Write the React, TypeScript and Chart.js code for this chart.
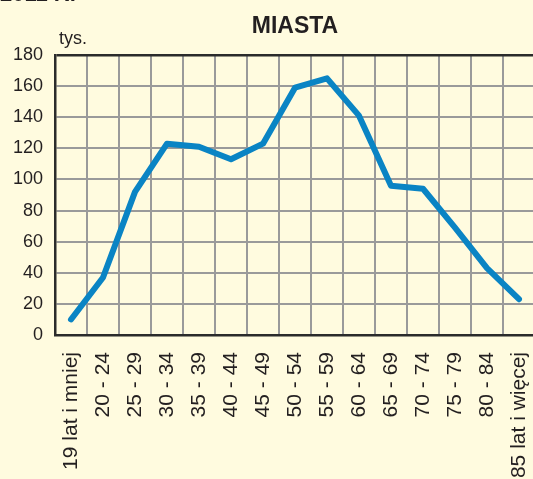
import React, { useEffect, useRef } from "react";
import { Chart, registerables } from "chart.js";

Chart.register(...registerables);

const categories = [
  "19 lat i mniej",
  "20 - 24",
  "25 - 29",
  "30 - 34",
  "35 - 39",
  "40 - 44",
  "45 - 49",
  "50 - 54",
  "55 - 59",
  "60 - 64",
  "65 - 69",
  "70 - 74",
  "75 - 79",
  "80 - 84",
  "85 lat i więcej",
];
const values = [10, 37, 92, 123, 121, 113, 123, 159, 165, 141, 96, 94, 69, 43, 23];
const yMin = 0;
const yMax = 180;
const yStep = 20;

const FONT = "'Liberation Sans', Arial, Helvetica, sans-serif";
const BG = "#FFFBDF";
const DARK = "#2b2b2b";
const GRID = "#9a9a9a";
const TEXT = "#231f20";

export default function App() {
  const ref = useRef<HTMLCanvasElement | null>(null);

  useEffect(() => {
    if (!ref.current) return;
    const chart = new Chart(ref.current, {
      type: "line",
      data: {
        labels: categories,
        datasets: [
          {
            data: values,
            borderColor: "#0A84C4",
            borderWidth: 6,
            pointRadius: 0,
            tension: 0,
            borderCapStyle: "round",
            borderJoinStyle: "round",
            fill: false,
          },
        ],
      },
      options: {
        responsive: false,
        animation: false,
        events: [],
        layout: { padding: { top: 55, left: 0, right: 0, bottom: 0 } },
        plugins: {
          legend: { display: false },
          tooltip: { enabled: false },
          title: { display: false },
        },
        scales: {
          x: {
            type: "category",
            offset: true,
            grid: {
              offset: true,
              color: GRID,
              lineWidth: 2,
              drawTicks: false,
            },
            border: { color: DARK, width: 2.5 },
            ticks: {
              autoSkip: false,
              maxRotation: 90,
              minRotation: 90,
              padding: 17,
              color: TEXT,
              font: { family: FONT, size: 21 },
            },
            afterFit: (s: any) => {
              s.height = 479 - 335;
              s.paddingLeft = 0;
              s.paddingRight = 0;
            },
          },
          y: {
            min: yMin,
            max: yMax,
            grid: {
              color: (c: any) => (c.tick && c.tick.value === yMax ? DARK : GRID),
              lineWidth: (c: any) => (c.tick && c.tick.value === yMax ? 2.5 : 2),
              drawTicks: false,
            },
            border: { color: DARK, width: 2.5 },
            ticks: {
              stepSize: yStep,
              padding: 12,
              color: TEXT,
              font: { family: FONT, size: 18 },
            },
            afterFit: (s: any) => {
              s.width = 55;
              s.paddingTop = 0;
              s.paddingBottom = 0;
            },
          },
        },
      },
    });
    return () => chart.destroy();
  }, []);

  return (
    <div
      style={{
        position: "fixed",
        left: 0,
        top: 0,
        width: 533,
        height: 479,
        overflow: "hidden",
        background: BG,
        fontFamily: FONT,
        color: TEXT,
      }}
    >
      <canvas
        ref={ref}
        width={535}
        height={479}
        style={{ position: "absolute", left: 0, top: 0, width: 535, height: 479 }}
      />
      <div
        style={{
          position: "absolute",
          left: 0,
          top: -18,
          fontSize: 22,
          fontWeight: "bold",
          lineHeight: "24px",
          whiteSpace: "nowrap",
        }}
      >
        2011 R.
      </div>
      <div
        style={{
          position: "absolute",
          left: 295,
          top: 12,
          transform: "translateX(-50%)",
          fontSize: 23,
          fontWeight: "bold",
          lineHeight: "26px",
          whiteSpace: "nowrap",
        }}
      >
        MIASTA
      </div>
      <div
        style={{
          position: "absolute",
          left: 59,
          top: 28,
          fontSize: 18,
          lineHeight: "21px",
          whiteSpace: "nowrap",
        }}
      >
        tys.
      </div>
    </div>
  );
}
